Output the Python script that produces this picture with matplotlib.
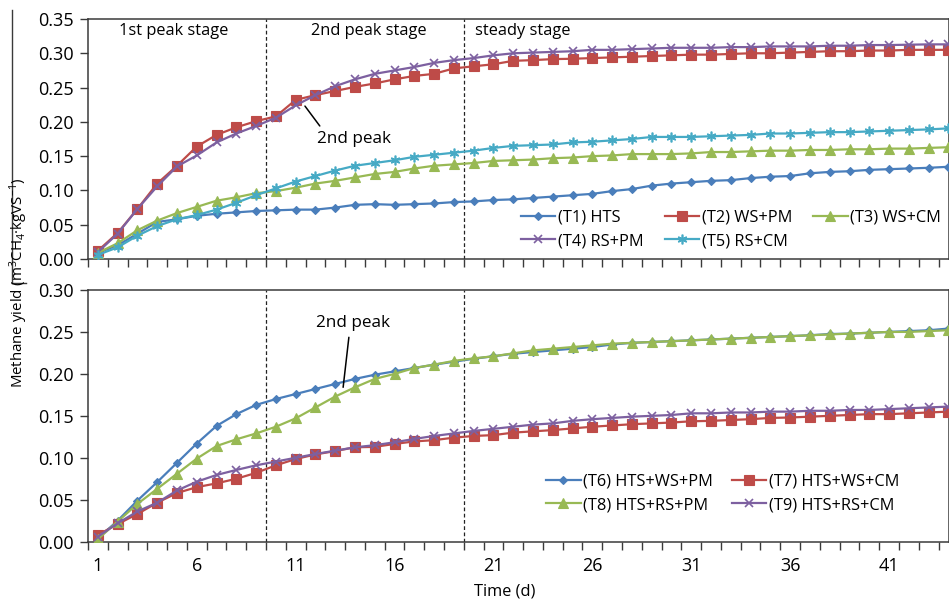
import numpy as np
import matplotlib
matplotlib.use("Agg")
import matplotlib.pyplot as plt
from matplotlib.lines import Line2D

plt.rcParams['font.family'] = ['Open Sans', 'DejaVu Sans']
plt.rcParams['mathtext.fontset'] = 'custom'
plt.rcParams['mathtext.rm'] = 'Open Sans'
plt.rcParams['mathtext.it'] = 'Open Sans'

days = list(range(1, 45))

# top panel
t1_hts = [0.009, 0.020, 0.037, 0.054, 0.058, 0.063, 0.066, 0.068, 0.070, 0.071,
          0.072, 0.072, 0.075, 0.079, 0.080, 0.079, 0.080, 0.081, 0.083, 0.084,
          0.086, 0.087, 0.089, 0.091, 0.093, 0.095, 0.099, 0.102, 0.107, 0.110,
          0.112, 0.114, 0.115, 0.118, 0.120, 0.121, 0.125, 0.127, 0.128, 0.130,
          0.131, 0.132, 0.133, 0.1345]
t2_ws_pm = [0.012, 0.038, 0.073, 0.110, 0.136, 0.164, 0.181, 0.192, 0.201, 0.208,
            0.232, 0.239, 0.245, 0.251, 0.256, 0.262, 0.267, 0.270, 0.278, 0.281,
            0.284, 0.289, 0.290, 0.2915, 0.292, 0.293, 0.294, 0.295, 0.296, 0.297,
            0.298, 0.298, 0.299, 0.300, 0.300, 0.301, 0.302, 0.303, 0.303, 0.304,
            0.304, 0.305, 0.305, 0.305]
t3_ws_cm = [0.009, 0.023, 0.042, 0.056, 0.067, 0.076, 0.085, 0.090, 0.096, 0.099,
            0.104, 0.110, 0.114, 0.119, 0.124, 0.127, 0.132, 0.136, 0.138, 0.140,
            0.143, 0.144, 0.145, 0.147, 0.148, 0.150, 0.151, 0.153, 0.153, 0.153,
            0.154, 0.156, 0.156, 0.157, 0.158, 0.158, 0.159, 0.159, 0.160, 0.160,
            0.161, 0.161, 0.162, 0.163]
t4_rs_pm = [0.010, 0.037, 0.073, 0.106, 0.135, 0.151, 0.170, 0.183, 0.194, 0.206,
            0.224, 0.239, 0.252, 0.262, 0.270, 0.275, 0.280, 0.286, 0.290, 0.293,
            0.297, 0.300, 0.301, 0.302, 0.303, 0.305, 0.305, 0.306, 0.307, 0.308,
            0.308, 0.308, 0.309, 0.309, 0.310, 0.310, 0.310, 0.311, 0.311, 0.312,
            0.312, 0.3125, 0.313, 0.313]
t5_rs_cm = [0.006, 0.017, 0.034, 0.048, 0.058, 0.064, 0.072, 0.082, 0.093, 0.103,
            0.113, 0.121, 0.129, 0.136, 0.140, 0.144, 0.149, 0.152, 0.155, 0.158,
            0.162, 0.165, 0.166, 0.167, 0.170, 0.171, 0.173, 0.175, 0.178, 0.178,
            0.178, 0.179, 0.180, 0.181, 0.183, 0.183, 0.184, 0.185, 0.185, 0.186,
            0.187, 0.188, 0.189, 0.1905]

# bottom panel
t6_hts_ws_pm = [0.004, 0.025, 0.049, 0.071, 0.094, 0.117, 0.138, 0.152, 0.163, 0.170,
                0.176, 0.182, 0.188, 0.194, 0.199, 0.203, 0.207, 0.211, 0.2145, 0.218,
                0.221, 0.224, 0.226, 0.228, 0.230, 0.232, 0.235, 0.237, 0.238, 0.239,
                0.240, 0.241, 0.242, 0.243, 0.244, 0.245, 0.246, 0.2475, 0.248, 0.249,
                0.250, 0.251, 0.252, 0.254]
t7_hts_ws_cm = [0.008, 0.021, 0.033, 0.0465, 0.058, 0.065, 0.0695, 0.075, 0.082, 0.091,
                0.0985, 0.104, 0.108, 0.1125, 0.113, 0.1165, 0.1195, 0.121, 0.124, 0.126,
                0.127, 0.130, 0.1315, 0.133, 0.135, 0.137, 0.1385, 0.140, 0.141, 0.142,
                0.1435, 0.144, 0.145, 0.146, 0.1475, 0.148, 0.149, 0.150, 0.151, 0.152,
                0.152, 0.153, 0.154, 0.155]
t8_hts_rs_pm = [0.003, 0.024, 0.045, 0.063, 0.081, 0.099, 0.114, 0.122, 0.129, 0.137,
                0.147, 0.160, 0.173, 0.184, 0.194, 0.200, 0.207, 0.211, 0.2155, 0.2185,
                0.221, 0.2245, 0.228, 0.230, 0.232, 0.234, 0.236, 0.237, 0.238, 0.239,
                0.240, 0.241, 0.242, 0.243, 0.244, 0.245, 0.246, 0.247, 0.248, 0.249,
                0.250, 0.250, 0.251, 0.252]
t9_hts_rs_cm = [0.006, 0.022, 0.036, 0.0465, 0.061, 0.0715, 0.0795, 0.0855, 0.091, 0.0955,
                0.100, 0.1045, 0.1085, 0.1125, 0.115, 0.1185, 0.1225, 0.126, 0.129, 0.132,
                0.1345, 0.137, 0.1395, 0.141, 0.144, 0.146, 0.1475, 0.149, 0.150, 0.151,
                0.153, 0.153, 0.154, 0.154, 0.155, 0.155, 0.156, 0.156, 0.157, 0.157,
                0.158, 0.159, 0.160, 0.161]

BLUE, RED, GREEN, PURPLE, CYAN = '#4A7EBB', '#BE4B48', '#98B954', '#7D60A0', '#46AAC5'
AST = (6, 2, 0)

top_series = [
    ('(T1) HTS', t1_hts, BLUE, 'D', 4.5),
    ('(T2) WS+PM', t2_ws_pm, RED, 's', 6.5),
    ('(T3) WS+CM', t3_ws_cm, GREEN, '^', 6.5),
    ('(T4) RS+PM', t4_rs_pm, PURPLE, 'x', 6),
    ('(T5) RS+CM', t5_rs_cm, CYAN, AST, 7),
]
bottom_series = [
    ('(T6) HTS+WS+PM', t6_hts_ws_pm, BLUE, 'D', 4.5),
    ('(T7) HTS+WS+CM', t7_hts_ws_cm, RED, 's', 6.5),
    ('(T8) HTS+RS+PM', t8_hts_rs_pm, GREEN, '^', 6.5),
    ('(T9) HTS+RS+CM', t9_hts_rs_cm, PURPLE, 'x', 6),
]

TICK_FS = 13
LEG_FS = 11.8
TXT_FS = 11.8
SPINE = '#3a3a3a'

fig = plt.figure(figsize=(9.49, 5.99), dpi=100)
ax1 = fig.add_axes([0.0927, 0.5676, 0.9073, 0.4007])
ax2 = fig.add_axes([0.0927, 0.0957, 0.9073, 0.4202])


def style_axis(ax, ymax, labels):
    ax.set_xlim(0.5, 44.03)
    ax.set_ylim(0, ymax)
    yt = np.arange(0, ymax + 0.001, 0.05)
    ax.set_yticks(yt)
    ax.set_yticklabels(['%.2f' % v for v in yt], fontsize=TICK_FS)
    ax.set_xticks(np.arange(0.5, 44.5, 1.0))
    ax.set_xticks([1, 6, 11, 16, 21, 26, 31, 36, 41], minor=True)
    ax.tick_params(axis='x', which='major', direction='out', length=6, width=1,
                   color=SPINE, labelbottom=False)
    ax.tick_params(axis='x', which='minor', length=0, labelsize=TICK_FS,
                   labelbottom=labels, pad=11)
    if labels:
        ax.set_xticklabels(['1', '6', '11', '16', '21', '26', '31', '36', '41'],
                           minor=True)
    ax.tick_params(axis='y', direction='out', length=6, width=1, color=SPINE, pad=4)
    for s in ax.spines.values():
        s.set_color(SPINE)
        s.set_linewidth(1.1)
    for xv in (9.5, 19.5):
        ax.axvline(xv, color='#222222', lw=0.9, ls=(0, (3, 2)), zorder=1)


for ax, series in ((ax1, top_series), (ax2, bottom_series)):
    for name, vals, col, mk, ms in series:
        ax.plot(days, vals, color=col, lw=1.6, marker=mk, markersize=ms,
                markerfacecolor=col, markeredgecolor=col,
                markeredgewidth=1.2 if mk in ('x', AST) else 0.8,
                label=name, zorder=3)

style_axis(ax1, 0.35, False)
style_axis(ax2, 0.30, True)

# legends (row-wise order in the reference)
h1, l1 = ax1.get_legend_handles_labels()
order1 = [0, 3, 1, 4, 2]
ax1.legend([h1[i] for i in order1], [l1[i] for i in order1], ncol=3,
           frameon=False, fontsize=LEG_FS, loc='lower left',
           bbox_to_anchor=(0.4857, -0.02), handlelength=2.1, handletextpad=0.15,
           columnspacing=1.3, labelspacing=0.45)
h2, l2 = ax2.get_legend_handles_labels()
order2 = [0, 2, 1, 3]
ax2.legend([h2[i] for i in order2], [l2[i] for i in order2], ncol=2,
           frameon=False, fontsize=LEG_FS, loc='lower left',
           bbox_to_anchor=(0.515, 0.055), handlelength=2.1, handletextpad=0.15,
           columnspacing=1.15, labelspacing=0.45)

# stage labels
ax1.text(4.83, 0.332, '1st peak stage', fontsize=TXT_FS, ha='center', va='center')
ax1.text(14.7, 0.332, '2nd peak stage', fontsize=TXT_FS, ha='center', va='center')
ax1.text(20.06, 0.332, 'steady stage', fontsize=TXT_FS, ha='left', va='center')

# 2nd peak callouts
ax1.annotate('', xy=(11.47, 0.223), xytext=(12.22, 0.194),
             arrowprops=dict(arrowstyle='-', color='black', lw=1.1,
                             shrinkA=0, shrinkB=0))
ax1.text(12.1, 0.175, '2nd peak', fontsize=12.3, ha='left', va='center')
ax2.annotate('', xy=(13.40, 0.184), xytext=(13.69, 0.2436),
             arrowprops=dict(arrowstyle='-', color='black', lw=1.1,
                             shrinkA=0, shrinkB=0))
ax2.text(12.02, 0.261, '2nd peak', fontsize=12.3, ha='left', va='center')

fig.text(0.02, 0.528, 'Methane yield (m$^{3}$CH$_{4}$·kgVS$^{-1}$)', rotation=90,
         ha='center', va='center', fontsize=10.8)
fig.text(0.532, 0.012, 'Time (d)', ha='center', va='center', fontsize=TXT_FS)

# remnant border of the original figure
fig.add_artist(Line2D([12 / 949, 12 / 949], [1 - 10 / 599, 1 - 283 / 599],
                      transform=fig.transFigure, color=SPINE, lw=1))
fig.add_artist(Line2D([12 / 949, 26 / 949], [1 - 283 / 599, 1 - 283 / 599],
                      transform=fig.transFigure, color=SPINE, lw=1))

fig.savefig('out.png', dpi=100)
